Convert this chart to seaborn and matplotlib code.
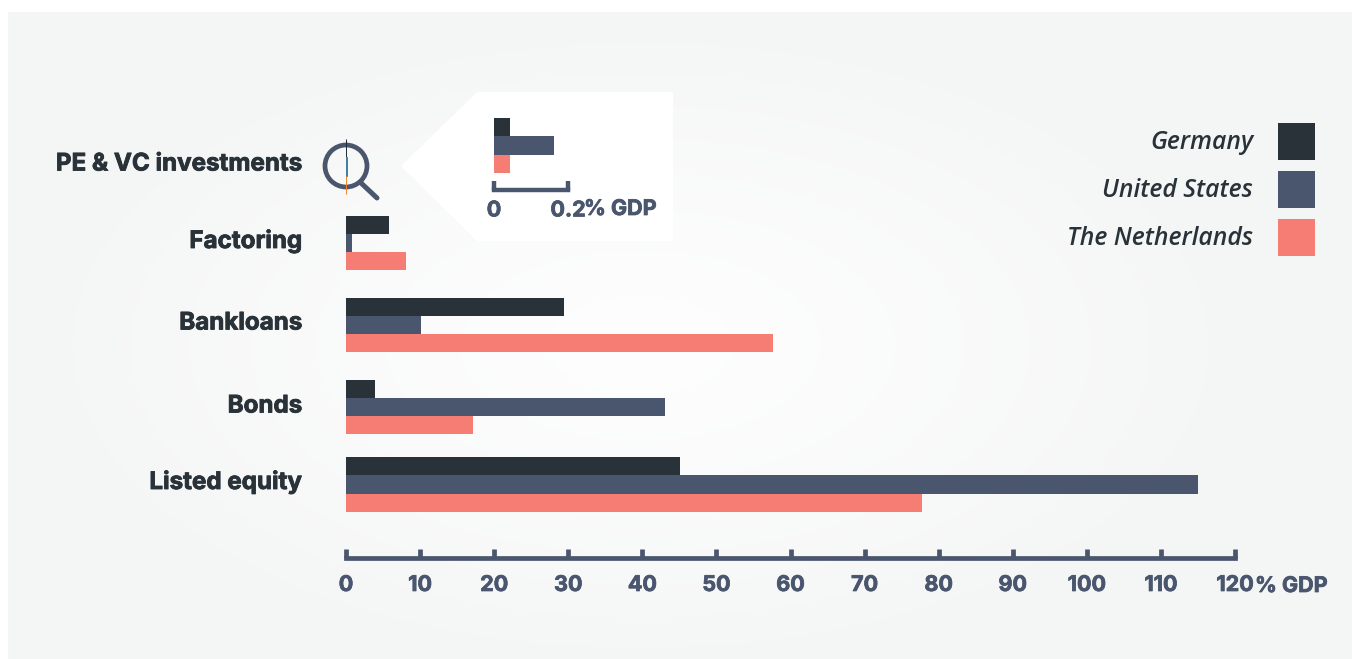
import numpy as np
import pandas as pd
import seaborn as sns
import matplotlib.pyplot as plt
import matplotlib.patheffects as pe_fx
from matplotlib.patches import Polygon, Circle
from matplotlib.lines import Line2D

# ---------- data ----------
categories = ["PE & VC investments", "Factoring", "Bankloans", "Bonds", "Listed equity"]
countries = ["Germany", "United States", "The Netherlands"]
germany = [0.043, 5.8, 29.4, 3.9, 45.1]
united_states = [0.162, 0.8, 10.1, 43.1, 115.0]
netherlands = [0.043, 8.1, 57.6, 17.1, 77.7]
x_ticks = list(range(0, 121, 10))
inset_ticks = [0, 0.2]
inset_tick_labels = ["0", "0.2"]
unit_label = "% GDP"

# ---------- layout / style ----------
W, H = 1352, 659
DARK, SLATE, CORAL = "#283238", "#4a566e", "#f67d73"
palette = dict(zip(countries, [DARK, SLATE, CORAL]))
pe_colors = ["#1c2a38", "#3f7fa3", "#f58220"]
ROW_PX, ROW0_PX = 82.0, 161.0
row_pos = [0.067, 1, 2, 3, 3.945]      # bar group centres
label_px = [162, 239, 321, 404, 480]   # label centres sit slightly above the groups
BOLD = "Inter"
ITALIC = "Open Sans"
TICK_SIZE = 15.5

sns.set_theme(style="white")
plt.rcParams["font.family"] = [BOLD, "DejaVu Sans"]


def heavy(text, color, lw=0.55):
    text.set_fontweight("bold")
    text.set_path_effects([pe_fx.withStroke(linewidth=lw, foreground=color)])


rows = []
for c, p, g, u, n in zip(categories, row_pos, germany, united_states, netherlands):
    for country, v in zip(countries, (g, u, n)):
        rows.append({"category": c, "pos": p, "country": country, "value": v})
df = pd.DataFrame(rows)

fig = plt.figure(figsize=(W / 100, H / 100), dpi=100, facecolor="white")


def box(x0, y0, x1, y1):
    return [x0 / W, 1 - y1 / H, (x1 - x0) / W, (y1 - y0) / H]


# background layer in pixel coordinates
bg = fig.add_axes([0, 0, 1, 1], zorder=0)
bg.set_xlim(0, W)
bg.set_ylim(H, 0)
bg.axis("off")
yy, xx = np.mgrid[12:H, 8:W]
r = np.hypot((xx - 640) / 620, (yy - 345) / 330)
t = np.clip(r, 0, 1)[..., None] ** 1.3
panel = (1 - t) * np.array([0.995, 0.995, 0.995]) + t * np.array([0.957, 0.961, 0.961])
bg.imshow(panel, extent=(8, W, H, 12), aspect="auto", zorder=0)
bg.set_xlim(0, W)
bg.set_ylim(H, 0)
bg.add_patch(Polygon([(401, 166), (477, 92), (673, 92), (673, 241), (477, 241)],
                     closed=True, facecolor="white", edgecolor="none", zorder=1))
bg.add_patch(Circle((346, 166), 21, facecolor="none", edgecolor=SLATE, linewidth=3.4, zorder=2))
bg.add_line(Line2D([360, 377], [182, 198], color=SLATE, linewidth=3.6,
                   solid_capstyle="round", zorder=2))

# main chart
ax = fig.add_axes(box(346, 0, 1235, H), zorder=2)
ax.patch.set_alpha(0)
sns.barplot(data=df, x="value", y="pos", hue="country", hue_order=countries, palette=palette,
            orient="h", native_scale=True, width=0.718, gap=0, saturation=1, errorbar=None,
            linewidth=0, ax=ax, legend=True)
ax.set_xlim(0, 120)
ax.set_ylim((H - ROW0_PX) / ROW_PX, -ROW0_PX / ROW_PX)
ax.set_xlabel("")
ax.set_ylabel("")
for s in ("top", "left", "right"):
    ax.spines[s].set_visible(False)
ax.spines["bottom"].set_position(("data", (558.3 - ROW0_PX) / ROW_PX))
ax.spines["bottom"].set_color(SLATE)
ax.spines["bottom"].set_linewidth(3.4)
ax.spines["bottom"].set_capstyle("projecting")
ax.set_xticks(x_ticks)
ax.tick_params(axis="x", direction="in", length=6.5, width=3.4, color=SLATE, labelcolor=SLATE,
               labelsize=TICK_SIZE, pad=12, bottom=True)
for lab in ax.get_xticklabels():
    heavy(lab, SLATE)
ax.set_yticks([(p - ROW0_PX) / ROW_PX for p in label_px])
ax.set_yticklabels(categories, fontsize=17.4, color=DARK)
for lab in ax.get_yticklabels():
    heavy(lab, DARK, 0.6)
ax.tick_params(axis="y", length=0, pad=31.5)

# the PE & VC bars are hairlines in the main chart
for container, col in zip(ax.containers, pe_colors):
    for patch in container:
        if patch.get_y() < 0.5:
            patch.set_facecolor(col)
            patch.set_edgecolor(col)
            patch.set_linewidth(0.7)

# legend
handles, labels = ax.get_legend_handles_labels()
ax.get_legend().remove()
for h in handles:
    h.set_linewidth(0)
F = 17.8
Fpx = F * 100 / 72
fig.legend(handles, labels, loc="upper right", bbox_to_anchor=(1315 / W, 1 - 123 / H),
           frameon=False, markerfirst=False, borderpad=0, borderaxespad=0,
           handlelength=37 / Fpx, handleheight=1.9, labelspacing=11.5 / Fpx,
           handletextpad=25 / Fpx,
           prop={"family": ITALIC, "style": "italic", "weight": 600, "size": F},
           labelcolor=DARK)

heavy(bg.text(1255, 586, unit_label, color=SLATE, fontsize=TICK_SIZE,
              ha="left", va="center", zorder=3), SLATE)

# inset zoom on PE & VC
inset = fig.add_axes(box(494, 112, 568, 190), zorder=3)
inset.patch.set_alpha(0)
pe = df[df["category"] == categories[0]]
sns.barplot(data=pe, x="value", y="category", hue="country", hue_order=countries, palette=palette,
            orient="h", width=0.8, gap=0, saturation=1, errorbar=None, linewidth=0,
            ax=inset, legend=False)
inset.set_xlim(0, 0.2)
inset.set_ylim((190 - 145.5) / 68.75, (112 - 145.5) / 68.75)
inset.set_xlabel("")
inset.set_ylabel("")
inset.set_yticks([])
for s in ("top", "left", "right"):
    inset.spines[s].set_visible(False)
inset.spines["bottom"].set_color(SLATE)
inset.spines["bottom"].set_linewidth(3.2)
inset.spines["bottom"].set_capstyle("projecting")
inset.set_xticks(inset_ticks)
inset.set_xticklabels(inset_tick_labels)
inset.tick_params(axis="x", direction="in", length=6.5, width=3.2, color=SLATE, labelcolor=SLATE,
                  labelsize=TICK_SIZE, pad=7.5, bottom=True)
for lab in inset.get_xticklabels():
    heavy(lab, SLATE)
heavy(bg.text(584, 209, unit_label, color=SLATE, fontsize=TICK_SIZE,
              ha="left", va="center", zorder=3), SLATE)

fig.savefig("out.png", dpi=100, facecolor="white")
